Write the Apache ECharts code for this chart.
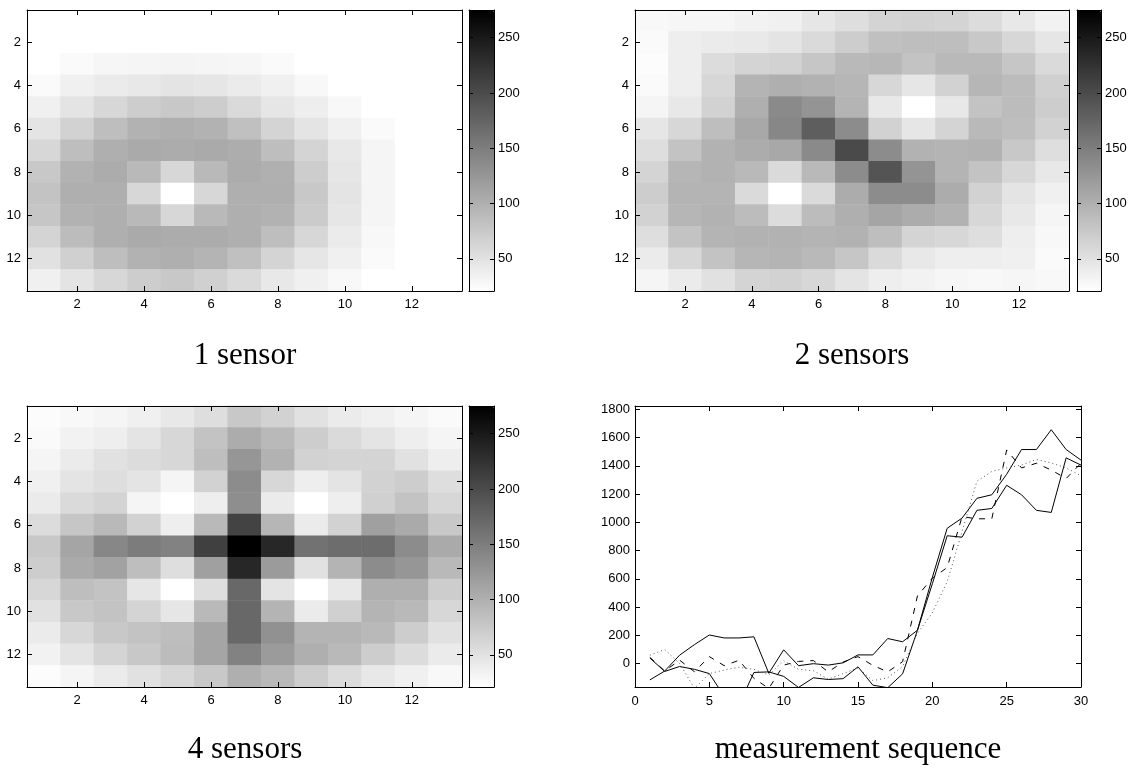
<!DOCTYPE html>
<html>
<head>
<meta charset="utf-8">
<script src="https://cdn.jsdelivr.net/npm/echarts@6/dist/echarts.min.js"></script>
<style>
html, body { margin: 0; padding: 0; background: #fff; }
#chart { width: 1134px; height: 771px; }
</style>
</head>
<body>
<div id="chart"></div>
<script>
// grid cell labels (1..13), rows top to bottom
const cells = ['1', '2', '3', '4', '5', '6', '7', '8', '9', '10', '11', '12', '13']
const colorbarTicks = [50, 100, 150, 200, 250]
const seqTicks = [0, 200, 400, 600, 800, 1000, 1200, 1400, 1600, 1800]
const steps = [1, 2, 3, 4, 5, 6, 7, 8, 9, 10, 11, 12, 13, 14, 15, 16, 17, 18, 19, 20, 21, 22, 23, 24, 25, 26, 27, 28, 29, 30]

// 1 sensor
const oneSensor = [
  [21, 21, 21, 21, 21, 21, 21, 21, 21, 21, 21, 21, 21],
  [21, 21, 21, 21, 21, 21, 21, 21, 21, 21, 21, 21, 21],
  [21, 26, 30, 31, 32, 31, 30, 26, 21, 21, 21, 21, 21],
  [26, 36, 41, 44, 48, 46, 41, 36, 28, 21, 21, 21, 21],
  [36, 48, 61, 71, 76, 71, 58, 46, 38, 28, 21, 21, 21],
  [48, 66, 86, 98, 101, 98, 84, 64, 48, 36, 26, 21, 21],
  [61, 86, 101, 106, 104, 106, 103, 86, 64, 44, 31, 21, 21],
  [76, 98, 104, 91, 61, 91, 104, 100, 71, 46, 31, 21, 21],
  [81, 101, 101, 61, 21, 61, 101, 101, 76, 48, 31, 21, 21],
  [78, 98, 101, 91, 61, 91, 101, 98, 73, 46, 31, 21, 21],
  [64, 88, 101, 106, 104, 104, 101, 86, 61, 41, 28, 21, 21],
  [51, 68, 86, 98, 101, 96, 84, 64, 46, 36, 26, 21, 21],
  [36, 48, 61, 71, 76, 68, 58, 44, 36, 28, 21, 21, 21]
]

// 2 sensors
const twoSensors = [
  [28, 30, 30, 34, 36, 46, 54, 64, 66, 64, 56, 44, 34],
  [26, 38, 41, 43, 48, 58, 71, 84, 86, 86, 76, 61, 46],
  [24, 38, 56, 64, 66, 78, 91, 93, 81, 91, 91, 78, 58],
  [26, 38, 61, 96, 101, 98, 94, 61, 46, 66, 94, 88, 68],
  [31, 44, 66, 101, 138, 128, 96, 44, 21, 44, 81, 88, 71],
  [46, 61, 86, 108, 141, 181, 136, 66, 46, 64, 91, 86, 66],
  [54, 81, 98, 104, 108, 138, 201, 136, 98, 96, 98, 76, 54],
  [64, 94, 98, 91, 58, 91, 136, 191, 128, 96, 81, 61, 44],
  [71, 96, 96, 58, 21, 58, 104, 136, 136, 104, 66, 48, 36],
  [66, 94, 98, 88, 56, 88, 101, 111, 104, 98, 61, 44, 31],
  [54, 81, 96, 98, 98, 96, 98, 86, 64, 61, 54, 38, 28],
  [41, 61, 81, 94, 96, 91, 78, 58, 44, 38, 38, 36, 26],
  [31, 41, 51, 64, 66, 61, 48, 38, 34, 30, 28, 30, 28]
]

// 4 sensors
const fourSensors = [
  [24, 28, 31, 36, 44, 54, 76, 66, 51, 41, 36, 31, 26],
  [26, 34, 38, 48, 61, 81, 104, 91, 71, 58, 48, 38, 31],
  [31, 41, 51, 56, 61, 86, 126, 98, 66, 64, 64, 51, 38],
  [36, 48, 54, 48, 31, 66, 136, 61, 38, 48, 66, 71, 54],
  [41, 58, 64, 31, 21, 38, 134, 41, 21, 38, 68, 81, 61],
  [56, 78, 91, 66, 38, 91, 208, 94, 41, 66, 116, 106, 76],
  [76, 111, 141, 151, 146, 211, 275, 236, 161, 166, 166, 136, 106],
  [71, 106, 114, 86, 54, 116, 236, 121, 51, 96, 136, 126, 91],
  [61, 86, 81, 46, 21, 54, 171, 48, 21, 44, 101, 101, 71],
  [51, 76, 81, 64, 46, 91, 171, 96, 41, 68, 96, 91, 61],
  [41, 61, 76, 81, 86, 111, 171, 131, 96, 96, 91, 71, 51],
  [34, 48, 64, 76, 88, 111, 146, 121, 101, 91, 71, 56, 41],
  [24, 31, 41, 51, 61, 76, 101, 91, 71, 56, 44, 36, 28]
]

// measurement sequence
const solidA = [-115, -52, 60, 135, 203, 182, 182, 190, -68, 98, -14, 0, -10, 6, 62, 62, 178, 155, 237, 610, 958, 1030, 1170, 1195, 1340, 1515, 1515, 1655, 1515, 1440]
const solidB = [40, -55, -20, -40, -70, -230, -290, -62, -58, -90, -168, -100, -112, -106, -22, -152, -170, -72, 236, 565, 905, 895, 1085, 1098, 1262, 1195, 1085, 1070, 1456, 1405]
const dashed = [45, -52, 25, -57, 50, -14, 24, -104, -175, -10, 16, 22, -58, 12, 50, -12, -58, 14, 480, 605, 680, 1040, 1025, 1025, 1512, 1385, 1418, 1370, 1310, 1418]
const dotted = [60, 100, 2, -175, -70, -45, -25, -40, -80, 20, -40, -50, -110, -70, -30, -120, -100, -20, 215, 360, 580, 935, 1290, 1360, 1385, 1405, 1445, 1420, 1385, 1330]

const labelFont = { fontFamily: 'Liberation Sans, Arial, sans-serif', fontSize: 13, color: '#000' }
const axisBlack = { show: true, onZero: false, lineStyle: { color: '#000', width: 1 } }
const every2 = function(i) { return i % 2 === 1 }
const plain = function(v) { return String(v) }

const grids = []
const xAxes = []
const yAxes = []
const series = []
const visualMaps = []

function toCells(rows) {
  const out = []
  rows.forEach(function(row, r) {
    row.forEach(function(v, c) { out.push([c, r, v]) })
  })
  return out
}

function catAxis(grid, pos, labels) {
  return {
    type: 'category',
    gridIndex: grid,
    position: pos,
    data: cells,
    inverse: pos === 'left' || pos === 'right',
    axisLine: axisBlack,
    axisTick: { show: true, inside: true, length: 5, alignWithLabel: true, interval: every2, lineStyle: { color: '#000' } },
    axisLabel: Object.assign({ show: labels, interval: every2, margin: pos === 'bottom' ? 7 : 6 }, labelFont),
    splitLine: { show: false },
    z: 10
  }
}

function addHeatmap(rows, box, bar) {
  const g = grids.length
  grids.push({ left: box[0], top: box[1], width: box[2], height: box[3] })
  const xi = xAxes.length
  const yi = yAxes.length
  xAxes.push(catAxis(g, 'bottom', true), catAxis(g, 'top', false))
  yAxes.push(catAxis(g, 'left', true), catAxis(g, 'right', false))
  const si = series.length
  series.push({
    type: 'heatmap',
    xAxisIndex: xi,
    yAxisIndex: yi,
    data: toCells(rows),
    progressive: 0,
    emphasis: { disabled: true }
  })

  // colorbar frame + ticks
  const cg = grids.length
  grids.push({ left: bar[0], top: box[1], width: bar[1], height: box[3] })
  const frameX = function(pos) {
    return { type: 'value', gridIndex: cg, position: pos, min: 0, max: 1, axisLine: axisBlack, axisTick: { show: false }, axisLabel: { show: false }, splitLine: { show: false }, z: 10 }
  }
  const frameY = function(pos, labels) {
    return {
      type: 'value', gridIndex: cg, position: pos, min: 21, max: 275,
      axisLine: axisBlack,
      axisTick: { show: true, inside: true, length: 4, customValues: colorbarTicks, lineStyle: { color: '#000' } },
      axisLabel: Object.assign({ show: labels, customValues: colorbarTicks, margin: 4, formatter: plain }, labelFont),
      splitLine: { show: false },
      z: 10
    }
  }
  xAxes.push(frameX('bottom'), frameX('top'))
  yAxes.push(frameY('left', false), frameY('right', true))

  visualMaps.push({
    type: 'continuous',
    seriesIndex: si,
    min: 21,
    max: 275,
    calculable: false,
    showLabel: false,
    left: bar[0],
    top: box[1],
    itemWidth: bar[1],
    itemHeight: box[3],
    padding: 0,
    inRange: { color: ['#ffffff', '#000000'] }
  })
}

addHeatmap(oneSensor, [27, 10, 435, 281], [469, 25])
addHeatmap(twoSensors, [635, 10, 434, 281], [1077, 24])
addHeatmap(fourSensors, [27, 406, 435, 281], [469, 25])

// line chart
const lg = grids.length
grids.push({ left: 635, top: 406, width: 446, height: 281 })
const lx = xAxes.length
const ly = yAxes.length
const seqX = function(pos, labels) {
  return {
    type: 'value', gridIndex: lg, position: pos, min: 0, max: 30, interval: 5,
    axisLine: axisBlack,
    axisTick: { show: true, inside: true, length: 5, lineStyle: { color: '#000' } },
    axisLabel: Object.assign({ show: labels, margin: 8, formatter: plain }, labelFont),
    splitLine: { show: false },
    z: 10
  }
}
const seqY = function(pos, labels) {
  return {
    type: 'value', gridIndex: lg, position: pos, min: -165, max: 1823,
    axisLine: axisBlack,
    axisTick: { show: true, inside: true, length: 5, customValues: seqTicks, lineStyle: { color: '#000' } },
    axisLabel: Object.assign({ show: labels, customValues: seqTicks, margin: 5, formatter: plain }, labelFont),
    splitLine: { show: false },
    z: 10
  }
}
xAxes.push(seqX('bottom', true), seqX('top', false))
yAxes.push(seqY('left', true), seqY('right', false))

function seqLine(values, style) {
  return {
    type: 'line',
    xAxisIndex: lx,
    yAxisIndex: ly,
    data: steps.map(function(s, i) { return [s, values[i]] }),
    symbol: 'none',
    clip: true,
    silent: true,
    lineStyle: style
  }
}
series.push(
  seqLine(solidA, { color: '#000', width: 1, type: 'solid' }),
  seqLine(solidB, { color: '#000', width: 1, type: 'solid' }),
  seqLine(dashed, { color: '#000', width: 1, type: [6, 7] }),
  seqLine(dotted, { color: '#555', width: 1, type: [1, 3] })
)

const titleStyle = function(text) {
  return { text: text, fontFamily: 'Liberation Serif, serif', fontSize: 31, fill: '#000', align: 'center', verticalAlign: 'middle' }
}

const chart = echarts.init(document.getElementById('chart'), null, { renderer: 'canvas' })
chart.setOption({
  animation: false,
  backgroundColor: '#fff',
  grid: grids,
  xAxis: xAxes,
  yAxis: yAxes,
  visualMap: visualMaps,
  series: series,
  graphic: [
    { type: 'text', x: 245, y: 356, style: titleStyle('1 sensor') },
    { type: 'text', x: 852, y: 356, style: titleStyle('2 sensors') },
    { type: 'text', x: 245, y: 750, style: titleStyle('4 sensors') },
    { type: 'text', x: 858, y: 750, style: titleStyle('measurement sequence') }
  ]
})
</script>
</body>
</html>
